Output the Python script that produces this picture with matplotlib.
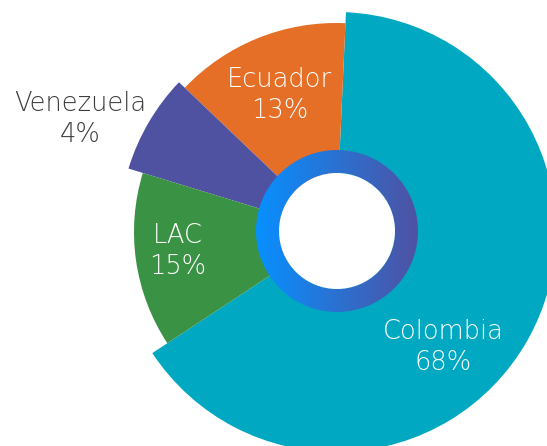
import numpy as np
import matplotlib
matplotlib.use("Agg")
import matplotlib.pyplot as plt
from matplotlib.patches import Wedge

# ---- data ----
categories = ["Colombia", "Ecuador", "Venezuela", "LAC"]
share_labels = [68, 13, 4, 15]            # printed percentages
slice_angles = [65.0, 13.6, 7.4, 14.0]    # visible angular share of each slice (%)
slice_radius = [220, 209, 217, 202]       # visible outer radius of each slice (px)
colors = ["#00a9c1", "#e56f27", "#4f52a1", "#3a9245"]
label_colors = ["white", "white", "#3d3d3d", "white"]

# ---- layout ----
W, H = 547, 446
cx, cy = 336, 232                # pie centre in pixels (from top-left)
start_angle = 213.4
label_pos = [(443, 347), (280, 95), (80, 119), (178, 251)]   # pixel centres of labels

fig = plt.figure(figsize=(W / 100, H / 100), dpi=100)
ax = fig.add_axes([0, 0, 1, 1])
ax.set_xlim(-cx, W - cx)
ax.set_ylim(cy - H, cy)
ax.axis("off")

theta = start_angle
for cat, frac, r, col in zip(categories, slice_angles, slice_radius, colors):
    span = frac / sum(slice_angles) * 360
    ax.add_patch(Wedge((0, 0), r, theta, theta + span, facecolor=col,
                       edgecolor="none", antialiased=True))
    theta += span

# gradient ring in the centre
ring_c = (1, 1)
ring_out, ring_w = 81, 23
ring = Wedge(ring_c, ring_out, 0, 360, width=ring_w, facecolor="none", edgecolor="none")
ax.add_patch(ring)
c1 = np.array(matplotlib.colors.to_rgb("#0790ff"))
c2 = np.array(matplotlib.colors.to_rgb("#4f52a3"))
t = np.linspace(0, 1, 256)
grad = (c1[None, :] * (1 - t[:, None]) + c2[None, :] * t[:, None])[None, :, :]
im = ax.imshow(grad, extent=(ring_c[0] - ring_out, ring_c[0] + ring_out,
                             ring_c[1] - ring_out, ring_c[1] + ring_out),
               aspect="auto", interpolation="bilinear", zorder=3)
im.set_clip_path(ring)
ax.add_patch(Wedge(ring_c, ring_out - ring_w, 0, 360, facecolor="white",
                   edgecolor="none", zorder=4))

for cat, pct, (px, py), lc in zip(categories, share_labels, label_pos, label_colors):
    ax.text(px - cx, cy - py, f"{cat}\n{pct}%", ha="center", va="center",
            color=lc, fontsize=18.5, family=["DejaVu Sans"],
            fontweight="light", linespacing=1.26, zorder=5)

ax.set_xlim(-cx, W - cx)
ax.set_ylim(cy - H, cy)
fig.savefig("out.png", dpi=100)
